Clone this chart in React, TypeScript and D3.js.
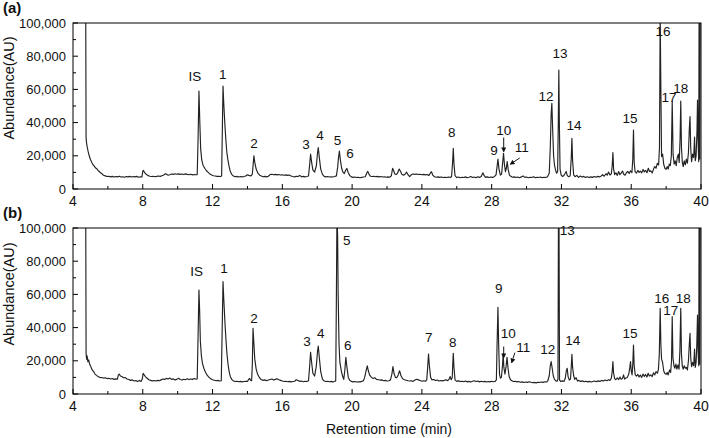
import React from 'react';
import * as d3 from 'd3';

const WIDTH = 709;
const HEIGHT = 438;
const FONT = '"Liberation Sans", Arial, Helvetica, sans-serif';

const xTicks = [4, 8, 12, 16, 20, 24, 28, 32, 36, 40];
const xMinorTicks = [6, 10, 14, 18, 22, 26, 30, 34, 38];
const yTicks = [0, 20000, 40000, 60000, 80000, 100000];
const yMinorTicks = [10000, 30000, 50000, 70000, 90000];

// retention time (min), abundance (AU) — panel (a)
const traceA: [number, number][] = [
  [4.72, 140000], [4.75, 31000], [4.78, 27500], [4.82, 25000], [4.87, 22500], [4.93, 20000], [5.0, 17800],
  [5.08, 16000], [5.15, 14600], [5.22, 13800], [5.3, 12600], [5.38, 12000], [5.45, 11000], [5.52, 10400],
  [5.6, 9600], [5.68, 9000], [5.75, 8300], [5.85, 7900], [5.95, 7500], [6.05, 7700], [6.15, 7300], [6.25, 7600],
  [6.35, 7200], [6.45, 7500], [6.55, 7300], [6.65, 7700], [6.75, 7200], [6.85, 7400], [6.95, 7100], [7.05, 7500],
  [7.15, 7300], [7.25, 7600], [7.35, 7200], [7.45, 7500], [7.55, 7300], [7.65, 7600], [7.75, 7100], [7.85, 7400],
  [7.95, 7200], [8.0, 10800], [8.04, 11200], [8.1, 10000], [8.18, 9000], [8.28, 8200], [8.4, 7700], [8.5, 7500],
  [8.6, 7700], [8.7, 7400], [8.8, 7600], [8.9, 7800], [9.0, 7600], [9.1, 8000], [9.2, 8400], [9.3, 9200],
  [9.38, 8800], [9.45, 8300], [9.55, 8600], [9.65, 9000], [9.75, 8800], [9.85, 9200], [9.95, 8900], [10.05, 9100],
  [10.15, 8800], [10.25, 9000], [10.35, 8700], [10.45, 9100], [10.55, 8800], [10.65, 8600], [10.75, 8900],
  [10.85, 8500], [10.95, 8700], [11.05, 8600], [11.12, 8700], [11.17, 30000], [11.22, 59000], [11.27, 40000],
  [11.32, 24000], [11.38, 17500], [11.45, 14500], [11.55, 12500], [11.65, 11000], [11.75, 10000], [11.85, 9000],
  [11.95, 8400], [12.05, 8000], [12.15, 7800], [12.25, 7600], [12.35, 7700], [12.45, 7500], [12.52, 7800],
  [12.56, 35000], [12.6, 62000], [12.64, 52000], [12.7, 40000], [12.76, 30000], [12.82, 22000], [12.88, 17500],
  [12.95, 13500], [13.02, 10500], [13.1, 8800], [13.2, 7800], [13.3, 7400], [13.4, 7600], [13.5, 7200],
  [13.6, 7500], [13.7, 7300], [13.8, 7500], [13.9, 7800], [14.0, 8600], [14.08, 8200], [14.2, 7900], [14.28, 9000],
  [14.33, 15000], [14.37, 20000], [14.42, 16000], [14.5, 12000], [14.6, 9500], [14.7, 8300], [14.8, 7800],
  [14.9, 7400], [15.0, 7600], [15.1, 7300], [15.2, 7700], [15.3, 8700], [15.4, 8900], [15.5, 8600], [15.6, 8800],
  [15.7, 8500], [15.8, 8700], [15.9, 8400], [16.0, 8600], [16.1, 8300], [16.2, 8500], [16.3, 8200], [16.4, 8400],
  [16.5, 7800], [16.6, 7500], [16.7, 7300], [16.8, 7700], [16.9, 7500], [17.0, 8200], [17.1, 7400], [17.2, 7600],
  [17.3, 7300], [17.4, 7500], [17.5, 7800], [17.56, 14000], [17.62, 21000], [17.68, 16000], [17.75, 11500],
  [17.85, 10200], [17.95, 14000], [18.02, 22000], [18.06, 25000], [18.12, 19000], [18.2, 12000], [18.3, 8800],
  [18.4, 7600], [18.5, 7300], [18.6, 7500], [18.7, 7200], [18.8, 7400], [18.9, 7200], [19.0, 7500], [19.1, 7900],
  [19.17, 13000], [19.22, 19000], [19.27, 22800], [19.32, 18000], [19.4, 12500], [19.48, 10000], [19.55, 9300],
  [19.62, 11000], [19.7, 12400], [19.78, 9800], [19.86, 8200], [19.95, 7300], [20.05, 7000], [20.15, 7200],
  [20.25, 6900], [20.35, 7100], [20.45, 6800], [20.55, 7000], [20.65, 7200], [20.75, 7400], [20.85, 9800],
  [20.9, 10600], [20.97, 8800], [21.05, 7700], [21.15, 7500], [21.25, 7700], [21.35, 7400], [21.45, 7600],
  [21.55, 7300], [21.65, 7500], [21.75, 7200], [21.85, 7400], [21.95, 7100], [22.05, 7300], [22.15, 7100],
  [22.25, 8000], [22.32, 12500], [22.38, 11000], [22.45, 9000], [22.52, 8700], [22.6, 9500], [22.7, 12000],
  [22.78, 10500], [22.85, 8900], [22.95, 8300], [23.05, 9000], [23.12, 10200], [23.2, 8600], [23.3, 7400],
  [23.4, 8700], [23.5, 9000], [23.6, 8800], [23.7, 9000], [23.8, 8700], [23.9, 8900], [24.0, 8600], [24.1, 8800],
  [24.2, 8500], [24.3, 8700], [24.4, 8200], [24.5, 9800], [24.55, 10400], [24.62, 8400], [24.72, 7400],
  [24.82, 7100], [24.92, 7300], [25.02, 7000], [25.12, 7200], [25.22, 6900], [25.32, 7100], [25.42, 6900],
  [25.52, 7200], [25.62, 7000], [25.7, 7400], [25.76, 16000], [25.8, 24500], [25.84, 15000], [25.9, 8000],
  [26.0, 6900], [26.1, 7200], [26.2, 6800], [26.3, 7100], [26.4, 6900], [26.5, 7300], [26.6, 6800], [26.7, 7100],
  [26.8, 7500], [26.9, 6900], [27.0, 7200], [27.1, 6800], [27.2, 7400], [27.3, 7000], [27.4, 7600], [27.5, 9800],
  [27.56, 8200], [27.65, 7000], [27.75, 7300], [27.85, 6900], [27.95, 7200], [28.05, 7000], [28.15, 7400],
  [28.25, 8500], [28.31, 13500], [28.36, 18000], [28.42, 12000], [28.5, 8400], [28.57, 9000], [28.63, 16000],
  [28.68, 21500], [28.73, 15000], [28.79, 10500], [28.84, 12500], [28.89, 16500], [28.95, 11500], [29.02, 8400],
  [29.1, 7600], [29.2, 7100], [29.3, 7300], [29.4, 6900], [29.5, 7200], [29.6, 6800], [29.7, 7300], [29.8, 7900],
  [29.9, 7000], [30.0, 7200], [30.1, 6800], [30.2, 7100], [30.3, 6900], [30.4, 7400], [30.5, 6800], [30.6, 7100],
  [30.7, 6900], [30.8, 7200], [30.9, 6800], [31.0, 7100], [31.1, 6900], [31.2, 7400], [31.3, 9500],
  [31.36, 25000], [31.41, 45000], [31.45, 51600], [31.5, 35000], [31.55, 20000], [31.6, 14500], [31.66, 11500],
  [31.72, 9500], [31.78, 10500], [31.82, 40000], [31.85, 71700], [31.88, 40000], [31.92, 12000], [31.98, 8500],
  [32.05, 7600], [32.12, 7900], [32.2, 9200], [32.27, 10600], [32.33, 8200], [32.4, 7400], [32.5, 7800],
  [32.56, 18000], [32.6, 30500], [32.64, 17000], [32.7, 8500], [32.78, 7400], [32.88, 8200], [32.98, 7000],
  [33.08, 7800], [33.18, 7200], [33.28, 7600], [33.38, 7000], [33.48, 7400], [33.58, 6900], [33.68, 7300],
  [33.78, 7000], [33.88, 7500], [33.98, 7100], [34.08, 7600], [34.18, 7300], [34.28, 7900], [34.36, 8600],
  [34.45, 7700], [34.55, 9200], [34.62, 8300], [34.7, 10200], [34.78, 8400], [34.86, 9200], [34.91, 14000],
  [34.95, 21900], [34.99, 12000], [35.05, 8600], [35.12, 9800], [35.2, 8200], [35.28, 10500], [35.35, 8600],
  [35.42, 9500], [35.5, 10800], [35.57, 8900], [35.65, 8300], [35.72, 9800], [35.8, 10600], [35.88, 9300],
  [35.96, 11000], [36.04, 9800], [36.09, 18000], [36.13, 35500], [36.17, 16000], [36.22, 10500], [36.3, 9600],
  [36.38, 11200], [36.45, 10000], [36.52, 10800], [36.6, 9700], [36.68, 11800], [36.75, 10300], [36.82, 11200],
  [36.9, 9800], [36.98, 12500], [37.05, 10500], [37.12, 11000], [37.2, 9600], [37.28, 12000], [37.35, 13500],
  [37.42, 12500], [37.5, 15500], [37.57, 14500], [37.62, 25000], [37.66, 105000], [37.7, 60000], [37.74, 19500],
  [37.8, 21000], [37.86, 15000], [37.93, 12500], [38.0, 11800], [38.06, 13500], [38.12, 12000], [38.18, 15000],
  [38.24, 14000], [38.3, 20000], [38.35, 53000], [38.4, 21000], [38.46, 15000], [38.52, 17000], [38.58, 14000],
  [38.64, 19000], [38.7, 21000], [38.75, 16000], [38.8, 30000], [38.84, 53000], [38.88, 25000], [38.93, 16000],
  [38.98, 13500], [39.04, 17000], [39.1, 14500], [39.16, 18000], [39.22, 15500], [39.28, 22000], [39.33, 36000],
  [39.37, 43600], [39.41, 25000], [39.46, 16500], [39.52, 21000], [39.58, 19000], [39.63, 31300], [39.67, 17000],
  [39.72, 20000], [39.77, 35000], [39.8, 53600], [39.83, 30000], [39.87, 16500], [39.9, 150000], [39.93, 18000],
  [39.96, 150000], [40.0, 150000],
];

// retention time (min), abundance (AU) — panel (b)
const traceB: [number, number][] = [
  [4.72, 150000], [4.75, 24500], [4.78, 21000], [4.81, 23000], [4.85, 19500], [4.9, 20500], [4.95, 18000],
  [5.02, 16500], [5.1, 14500], [5.18, 13500], [5.26, 12000], [5.35, 11200], [5.45, 10400], [5.55, 10000],
  [5.65, 9900], [5.75, 9600], [5.85, 9800], [5.95, 9300], [6.05, 9500], [6.15, 9000], [6.25, 9300], [6.35, 8800],
  [6.45, 9100], [6.55, 8900], [6.6, 11500], [6.65, 12000], [6.72, 10800], [6.8, 10500], [6.9, 9800], [7.0, 9900],
  [7.1, 9000], [7.2, 8700], [7.3, 8200], [7.4, 8500], [7.5, 7800], [7.6, 8100], [7.7, 7500], [7.8, 8200],
  [7.9, 7600], [7.97, 9000], [8.02, 12400], [8.08, 11500], [8.15, 10500], [8.25, 9500], [8.35, 8600], [8.45, 8200],
  [8.55, 7900], [8.65, 8100], [8.75, 7800], [8.85, 8200], [8.95, 8000], [9.05, 8500], [9.15, 9000], [9.25, 8800],
  [9.35, 9400], [9.45, 9000], [9.55, 9600], [9.65, 8800], [9.75, 9100], [9.85, 8500], [9.95, 8800], [10.05, 9500],
  [10.15, 8700], [10.25, 8400], [10.35, 8900], [10.45, 8600], [10.55, 9200], [10.65, 8700], [10.75, 9000],
  [10.85, 8800], [10.95, 9300], [11.05, 8900], [11.12, 9100], [11.17, 35000], [11.22, 62600], [11.26, 50000],
  [11.3, 32000], [11.36, 23000], [11.42, 18500], [11.5, 15500], [11.6, 13000], [11.7, 11200], [11.8, 10000],
  [11.9, 9200], [12.0, 8600], [12.1, 8300], [12.2, 8000], [12.3, 8200], [12.4, 7800], [12.5, 8000], [12.55, 38000],
  [12.6, 67700], [12.64, 58000], [12.7, 45000], [12.76, 34000], [12.82, 25000], [12.88, 18500], [12.95, 13500],
  [13.02, 10400], [13.1, 8800], [13.2, 7800], [13.3, 7500], [13.4, 7700], [13.5, 7400], [13.6, 7600], [13.7, 7300],
  [13.8, 7500], [13.9, 7700], [14.0, 7600], [14.06, 8600], [14.12, 9400], [14.18, 8300], [14.24, 8000],
  [14.28, 18000], [14.32, 39600], [14.36, 32000], [14.42, 21000], [14.5, 15000], [14.58, 12000], [14.68, 10000],
  [14.78, 8700], [14.9, 8200], [15.0, 8500], [15.1, 8000], [15.2, 8400], [15.3, 8700], [15.4, 9000], [15.5, 8400],
  [15.6, 8800], [15.7, 9200], [15.8, 8600], [15.9, 8200], [16.0, 7800], [16.1, 7500], [16.2, 7700], [16.3, 7400],
  [16.4, 7600], [16.5, 7300], [16.6, 7500], [16.7, 7700], [16.8, 8600], [16.9, 8100], [17.0, 7600], [17.1, 7800],
  [17.2, 7400], [17.3, 7700], [17.4, 7500], [17.5, 8000], [17.56, 16000], [17.62, 25100], [17.68, 19000],
  [17.75, 12500], [17.85, 10800], [17.95, 17000], [18.02, 26000], [18.06, 28900], [18.12, 22000], [18.2, 13500],
  [18.3, 9000], [18.4, 7800], [18.5, 7500], [18.6, 7700], [18.7, 7400], [18.8, 7600], [18.9, 7300], [19.0, 7500],
  [19.06, 8000], [19.1, 60000], [19.13, 108000], [19.17, 95000], [19.2, 60000], [19.25, 30000], [19.3, 19000],
  [19.38, 14000], [19.46, 10500], [19.52, 8800], [19.58, 14000], [19.64, 22100], [19.7, 16500], [19.78, 10000],
  [19.86, 8300], [19.95, 7600], [20.05, 7300], [20.15, 7500], [20.25, 7200], [20.35, 7400], [20.45, 7300],
  [20.55, 7600], [20.65, 8000], [20.72, 10000], [20.8, 14000], [20.87, 17000], [20.93, 14000], [21.0, 11500],
  [21.1, 10200], [21.2, 9300], [21.3, 9800], [21.4, 8800], [21.5, 8600], [21.6, 8400], [21.7, 8500], [21.8, 8000],
  [21.9, 8200], [22.0, 7800], [22.1, 8000], [22.2, 8500], [22.28, 12000], [22.34, 16500], [22.4, 12500],
  [22.48, 10000], [22.56, 9800], [22.64, 11500], [22.72, 14000], [22.8, 11000], [22.9, 9200], [23.0, 8600],
  [23.1, 8300], [23.2, 8000], [23.3, 7800], [23.4, 8000], [23.5, 7600], [23.6, 8400], [23.7, 8900], [23.8, 8500],
  [23.9, 8100], [24.0, 7700], [24.1, 8000], [24.2, 7700], [24.28, 8500], [24.33, 16000], [24.38, 24100],
  [24.43, 17000], [24.5, 10000], [24.58, 8500], [24.68, 8700], [24.78, 8100], [24.88, 8400], [24.98, 7800],
  [25.08, 8100], [25.18, 7900], [25.28, 8200], [25.38, 8600], [25.48, 8000], [25.56, 9000], [25.62, 10500],
  [25.68, 8600], [25.74, 10000], [25.77, 18000], [25.8, 24500], [25.84, 16000], [25.9, 8500], [26.0, 7600],
  [26.1, 7900], [26.2, 7500], [26.3, 7700], [26.4, 7400], [26.5, 7800], [26.6, 7300], [26.7, 7600], [26.8, 7200],
  [26.9, 7700], [27.0, 8000], [27.1, 7500], [27.2, 7800], [27.3, 7300], [27.4, 7700], [27.5, 7400], [27.6, 7600],
  [27.7, 7200], [27.8, 7500], [27.9, 7300], [28.0, 7700], [28.1, 7400], [28.2, 7600], [28.27, 8500],
  [28.31, 30000], [28.36, 52200], [28.4, 30000], [28.45, 12000], [28.5, 9500], [28.56, 10200], [28.62, 17000],
  [28.66, 24100], [28.7, 16000], [28.76, 12000], [28.82, 16000], [28.88, 22100], [28.94, 15500], [29.0, 10500],
  [29.08, 8600], [29.16, 8000], [29.25, 7500], [29.35, 7700], [29.45, 7300], [29.55, 7500], [29.65, 7100],
  [29.75, 7300], [29.85, 6900], [29.95, 7200], [30.05, 7000], [30.15, 7400], [30.25, 7100], [30.35, 6800],
  [30.45, 7000], [30.55, 6700], [30.65, 7100], [30.75, 6900], [30.85, 7200], [30.95, 7000], [31.05, 7400],
  [31.15, 7200], [31.22, 8000], [31.3, 11000], [31.36, 17000], [31.41, 19500], [31.47, 15500], [31.53, 11000],
  [31.6, 8800], [31.68, 7900], [31.75, 7700], [31.8, 9000], [31.83, 110000], [31.86, 110000], [31.89, 8500],
  [31.95, 7500], [32.05, 7900], [32.15, 7600], [32.22, 9500], [32.28, 14000], [32.33, 15500], [32.38, 10500],
  [32.45, 8400], [32.52, 9000], [32.56, 16000], [32.6, 23900], [32.64, 16000], [32.7, 11000], [32.76, 8800],
  [32.84, 9800], [32.92, 7800], [33.0, 8200], [33.1, 7600], [33.2, 7900], [33.3, 7400], [33.4, 7700], [33.5, 7300],
  [33.6, 7600], [33.7, 7200], [33.8, 7500], [33.9, 7800], [34.0, 7400], [34.1, 7900], [34.2, 7600], [34.3, 8200],
  [34.4, 7800], [34.5, 8400], [34.6, 8000], [34.7, 8600], [34.78, 8200], [34.86, 9500], [34.91, 13500],
  [34.95, 19500], [34.99, 12500], [35.05, 9300], [35.12, 8600], [35.2, 9800], [35.28, 8700], [35.36, 10200],
  [35.42, 8900], [35.5, 9400], [35.56, 11500], [35.62, 9000], [35.7, 9600], [35.78, 10000], [35.86, 12000],
  [35.92, 16000], [35.96, 19500], [36.0, 14000], [36.05, 11500], [36.09, 18000], [36.13, 29500], [36.17, 17000],
  [36.23, 11500], [36.3, 10800], [36.38, 11800], [36.45, 10200], [36.52, 11500], [36.6, 10000], [36.68, 12000],
  [36.75, 10500], [36.82, 11800], [36.9, 10200], [36.97, 12500], [37.04, 10800], [37.12, 11500], [37.2, 10500],
  [37.28, 12800], [37.35, 11500], [37.42, 13500], [37.5, 12500], [37.56, 15000], [37.61, 24000], [37.66, 51600],
  [37.7, 30000], [37.74, 21000], [37.8, 19000], [37.86, 14000], [37.92, 12500], [38.0, 11800], [38.06, 13000],
  [38.12, 11500], [38.2, 14500], [38.26, 13000], [38.31, 20000], [38.35, 46600], [38.39, 22000], [38.45, 17000],
  [38.5, 15500], [38.56, 18000], [38.62, 15000], [38.68, 17500], [38.74, 15000], [38.79, 26000], [38.84, 51600],
  [38.88, 24000], [38.93, 16500], [38.98, 15000], [39.04, 17000], [39.1, 15500], [39.16, 16000], [39.22, 14500],
  [39.28, 20000], [39.33, 30000], [39.37, 36500], [39.41, 22000], [39.46, 16500], [39.52, 19000], [39.58, 17000],
  [39.63, 27000], [39.67, 16000], [39.72, 19000], [39.76, 30000], [39.8, 47600], [39.83, 26000], [39.87, 17000],
  [39.9, 150000], [39.93, 18000], [39.96, 150000], [40.0, 150000],
];

// peak labels: text, retention time, abundance (label anchor)
const peaksA: [string, number, number][] = [
  ['IS', 10.99, 68100], ['1', 12.58, 69300], ['2', 14.38, 27700], ['3', 17.36, 27100], ['4', 18.16, 32500],
  ['5', 19.17, 29500], ['6', 19.88, 21700], ['8', 25.71, 34300], ['9', 28.13, 23500], ['10', 28.7, 35500],
  ['11', 29.72, 25300], ['12', 31.12, 56000], ['13', 31.92, 81900], ['14', 32.72, 38600], ['15', 35.93, 42800],
  ['16', 37.82, 95200], ['17', 38.17, 55400], ['18', 38.84, 60800],
];
const peaksB: [string, number, number][] = [
  ['IS', 11.09, 74300], ['1', 12.66, 75900], ['2', 14.38, 45800], ['3', 17.41, 32100], ['4', 18.2, 36700],
  ['5', 19.69, 92800], ['6', 19.75, 29500], ['7', 24.39, 34500], ['8', 25.77, 31300], ['9', 28.4, 63900],
  ['10', 28.95, 36900], ['11', 29.81, 28100], ['12', 31.21, 26900], ['13', 32.34, 98800], ['14', 32.65, 32500],
  ['15', 35.93, 36600], ['16', 37.75, 57700], ['17', 38.26, 50600], ['18', 38.99, 57700],
];

// arrows for peaks 10 and 11: t1, v1 -> t2, v2
const arrowsA: [number, number, number, number][] = [
  [28.69, 31000, 28.69, 22600],
  [29.61, 18700, 29.08, 15000],
];
const arrowsB: [number, number, number, number][] = [
  [28.69, 28600, 28.69, 22000],
  [29.33, 24900, 29.15, 19000],
];

const PLOT_LEFT = 73;
const PLOT_RIGHT = 701;
const PLOT_H = 166;

const x = d3.scaleLinear().domain([4, 40]).range([PLOT_LEFT, PLOT_RIGHT]);
const fmt = d3.format(',');

function Panel({ id, tag, top, trace, peaks, arrows, labelY }: any) {
  const bottom = top + PLOT_H;
  const y = d3.scaleLinear().domain([0, 100000]).range([bottom, top]);
  const line = d3.line<[number, number]>().x(d => x(d[0])).y(d => y(d[1]));

  return (
    <g>
      <defs>
        <clipPath id={`clip-${id}`}>
          <rect x={PLOT_LEFT} y={top} width={PLOT_RIGHT - PLOT_LEFT} height={PLOT_H} />
        </clipPath>
      </defs>

      <path
        d={line(trace) || ''}
        fill="none"
        stroke="#222"
        strokeWidth={1.15}
        strokeLinejoin="round"
        clipPath={`url(#clip-${id})`}
      />

      {/* frame */}
      <rect x={PLOT_LEFT} y={top} width={PLOT_RIGHT - PLOT_LEFT} height={PLOT_H} fill="none" stroke="#000" strokeWidth={1} />

      {/* x ticks (inward) */}
      {xTicks.map(t => (
        <g key={`xt${t}`}>
          <line x1={x(t)} x2={x(t)} y1={bottom} y2={bottom - 5} stroke="#000" />
          <text x={x(t)} y={bottom + 17} textAnchor="middle" fontSize={14} fill="#111">{t}</text>
        </g>
      ))}
      {xMinorTicks.map(t => (
        <line key={`xm${t}`} x1={x(t)} x2={x(t)} y1={bottom} y2={bottom - 3} stroke="#000" />
      ))}

      {/* y ticks (inward) */}
      {yTicks.map(v => (
        <g key={`yt${v}`}>
          <line x1={PLOT_LEFT} x2={PLOT_LEFT + 5} y1={y(v)} y2={y(v)} stroke="#000" />
          <text x={PLOT_LEFT - 7} y={y(v)} dy="0.36em" textAnchor="end" fontSize={13} fill="#111">{fmt(v)}</text>
        </g>
      ))}
      {yMinorTicks.map(v => (
        <line key={`ym${v}`} x1={PLOT_LEFT} x2={PLOT_LEFT + 3} y1={y(v)} y2={y(v)} stroke="#000" />
      ))}

      <text
        transform={`translate(13.5, ${labelY}) rotate(-90)`}
        textAnchor="middle"
        fontSize={14.5}
        fill="#111"
      >
        Abundance(AU)
      </text>

      <text x={3} y={top - 10} fontSize={15} fontWeight="bold" fill="#111">{tag}</text>

      {peaks.map(([label, t, v]: [string, number, number]) => (
        <text key={label} x={x(t)} y={y(v)} dy="0.36em" textAnchor="middle" fontSize={13.5} fill="#111">{label}</text>
      ))}

      {arrows.map(([t1, v1, t2, v2]: number[], i: number) => (
        <line key={i} x1={x(t1)} y1={y(v1)} x2={x(t2)} y2={y(v2)} stroke="#111" strokeWidth={1} markerEnd="url(#arrowhead)" />
      ))}
    </g>
  );
}

export default function App() {
  return (
    <svg
      width={WIDTH}
      height={HEIGHT}
      style={{ position: 'absolute', left: 0, top: 0, background: '#fff', fontFamily: FONT }}
    >
      <defs>
        <marker id="arrowhead" viewBox="0 0 10 10" refX="8" refY="5" markerWidth="5" markerHeight="6" markerUnits="userSpaceOnUse" orient="auto">
          <path d="M0,0 L10,5 L0,10 z" fill="#111" />
        </marker>
      </defs>
      <Panel id="a" tag="(a)" top={23} trace={traceA} peaks={peaksA} arrows={arrowsA} labelY={88} />
      <Panel id="b" tag="(b)" top={228} trace={traceB} peaks={peaksB} arrows={arrowsB} labelY={294} />
      <text x={(PLOT_LEFT + PLOT_RIGHT) / 2 + 2} y={434} textAnchor="middle" fontSize={14} fill="#111">
        Retention time (min)
      </text>
    </svg>
  );
}
